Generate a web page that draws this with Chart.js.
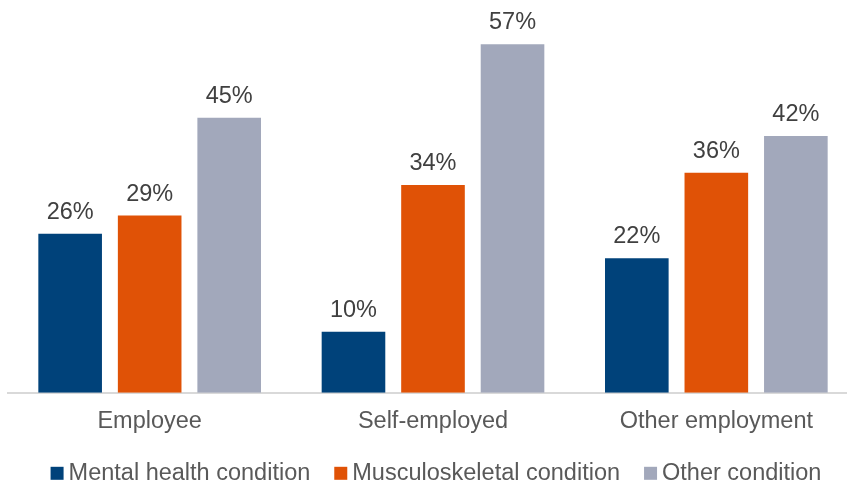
<!DOCTYPE html>
<html lang="en">
<head>
    <meta charset="UTF-8">
    <script src="https://cdn.jsdelivr.net/npm/chart.js"></script>
    <title>Condition by employment type</title>
    <style>
        html, body { margin: 0; padding: 0; background: #fff; overflow: hidden; }
        /* a little wider than the window: the last group runs right up to the edge */
        .container { width: 858px; height: 484px; }
    </style>
</head>
<body>
    <div class="container">
        <canvas id="myChart"></canvas>
    </div>
    <script>
        const categories = ['Employee', 'Self-employed', 'Other employment'];
        const seriesNames = ['Mental health condition', 'Musculoskeletal condition', 'Other condition'];
        const mentalHealth = [26, 10, 22];
        const musculoskeletal = [29, 34, 36];
        const otherCondition = [45, 57, 42];
        const seriesColors = ['#00427A', '#E05206', '#A2A8BB'];

        const FONT = "'Liberation Sans', Arial, sans-serif";
        const FONT_SIZE = 23.5;

        // % value above each bar
        const valueLabels = {
            id: 'valueLabels',
            afterDatasetsDraw(chart) {
                const ctx = chart.ctx;
                ctx.save();
                ctx.font = FONT_SIZE + 'px ' + FONT;
                ctx.fillStyle = '#404040';
                ctx.textAlign = 'center';
                ctx.textBaseline = 'alphabetic';
                chart.data.datasets.forEach(function(ds, i){
                    chart.getDatasetMeta(i).data.forEach(function(bar, j){
                        ctx.fillText(ds.data[j] + '%', bar.x, bar.y - 15);
                    });
                });
                ctx.restore();
            }
        };

        // legend with a tight box-to-text gap
        const bottomLegend = {
            id: 'bottomLegend',
            afterDraw(chart) {
                const ctx = chart.ctx;
                const box = 13, gapText = 5, gapItem = 24;
                ctx.save();
                ctx.font = FONT_SIZE + 'px ' + FONT;
                ctx.textBaseline = 'alphabetic';
                ctx.textAlign = 'left';
                let widths = chart.data.datasets.map(function(ds){
                    return box + gapText + ctx.measureText(ds.label).width;
                });
                let total = widths.reduce(function(a, b){ return a + b; }, 0) + gapItem * (widths.length - 1);
                let x = (chart.chartArea.left + chart.chartArea.right) / 2 + 3 - total / 2;
                let baseline = chart.chartArea.bottom + 87;
                chart.data.datasets.forEach(function(ds, i){
                    ctx.fillStyle = ds.backgroundColor;
                    ctx.fillRect(x, baseline - box, box, box);
                    ctx.fillStyle = '#595959';
                    ctx.fillText(ds.label, x + box + gapText, baseline);
                    x += widths[i] + gapItem;
                });
                ctx.restore();
            }
        };

        const ctx = document.getElementById('myChart');
        let config = {
            type: 'bar',
            data: {
                labels: categories,
                datasets: [
                    { label: seriesNames[0], data: mentalHealth, backgroundColor: seriesColors[0] },
                    { label: seriesNames[1], data: musculoskeletal, backgroundColor: seriesColors[1] },
                    { label: seriesNames[2], data: otherCondition, backgroundColor: seriesColors[2] }
                ]
            },
            options: {
                responsive: true,
                maintainAspectRatio: false,
                animation: false,
                layout: { padding: { left: 8, right: 0, top: 26, bottom: 33 } },
                datasets: { bar: { categoryPercentage: 0.842, barPercentage: 0.8 } },
                scales: {
                    x: {
                        grid: { display: false, drawTicks: false },
                        border: { display: true, color: '#D9D9D9', width: 2 },
                        ticks: { color: '#595959', font: { family: FONT, size: FONT_SIZE }, padding: 15 }
                    },
                    y: {
                        display: false,
                        min: 0,
                        max: 60
                    }
                },
                plugins: {
                    legend: { display: false },
                    tooltip: { enabled: false }
                }
            },
            plugins: [valueLabels, bottomLegend]
        };
        let myChart = new Chart(ctx, config);
    </script>
</body>
</html>
